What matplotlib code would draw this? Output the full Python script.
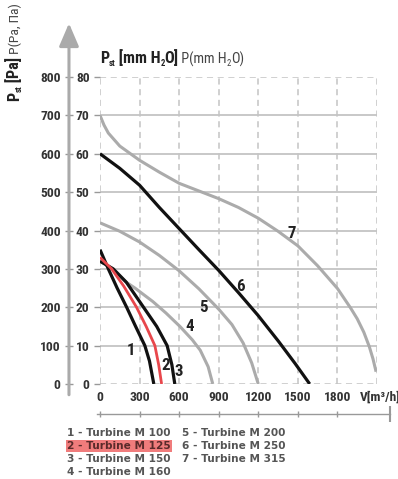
import os
import numpy as np
import matplotlib
matplotlib.use('Agg')
import matplotlib.pyplot as plt
from matplotlib import font_manager
from matplotlib.font_manager import FontProperties

# fan curves: static pressure [mm H2O] vs air flow [m3/h]
flow_1 = [0, 63, 130, 202, 270, 340, 375, 408]
pres_1 = [35, 30, 25, 20, 15, 10, 6, 0]
flow_2 = [0, 88, 180, 277, 350, 416, 445, 467]
pres_2 = [33, 30, 25.5, 20, 15, 10, 5, 0]
flow_3 = [0, 100, 200, 330, 430, 509, 545, 567]
pres_3 = [32, 30, 26.5, 20, 15, 10, 5, 0]
flow_4 = [0, 100, 200, 265, 400, 500, 606, 700, 760, 820, 855]
pres_4 = [32, 30, 26.5, 25, 21.5, 18.5, 15, 11.5, 8.8, 4.5, 0]
flow_5 = [0, 150, 300, 450, 600, 750, 900, 1000, 1085, 1150, 1200]
pres_5 = [42, 39.8, 37, 33.5, 29.5, 24.8, 19.5, 15.5, 10.7, 5.5, 0]
flow_6 = [0, 150, 300, 450, 600, 750, 900, 1050, 1200, 1356, 1480, 1590]
pres_6 = [60, 56.2, 51.8, 46, 40.5, 35, 29.6, 23.8, 17.8, 11, 5.3, 0]
flow_7 = [0, 30, 63, 150, 300, 450, 600, 750, 900, 1050, 1200, 1350, 1500,
          1650, 1800, 1900, 1950, 2000, 2042, 2070, 2093]
pres_7 = [70, 67.5, 65.4, 62, 58.3, 55.2, 52.3, 50.3, 48.3, 46, 43.2, 39.8, 36,
          30.8, 24.9, 19.8, 17, 13.5, 9.7, 6.5, 3.2]

curve_names = ['1', '2', '3', '4', '5', '6', '7']
label_pos = [(232, 8.6), (499, 4.8), (600, 3.2), (681, 15.1),
             (782, 20.0), (1065, 25.5), (1457, 39.3)]
models = ['1 - Turbine M 100', '2 - Turbine M 125', '3 - Turbine M 150',
          '4 - Turbine M 160', '5 - Turbine M 200', '6 - Turbine M 250',
          '7 - Turbine M 315']

x_ticks = [0, 300, 600, 900, 1200, 1500, 1800]
y_ticks = [0, 10, 20, 30, 40, 50, 60, 70, 80]
pa_ticks = [0, 100, 200, 300, 400, 500, 600, 700, 800]


def find_font(files):
    paths = {os.path.basename(f.fname): f.fname
             for f in font_manager.fontManager.ttflist}
    for fn in files:
        if fn in paths:
            return paths[fn]
    return None


bold_path = find_font(['LiberationSansNarrow-Bold.ttf', 'RobotoCondensed-Bold.ttf',
                       'DejaVuSansCondensed-Bold.ttf'])
reg_path = find_font(['LiberationSansNarrow-Regular.ttf', 'RobotoCondensed-Regular.ttf',
                      'DejaVuSansCondensed.ttf'])
if bold_path and 'Narrow' in bold_path:
    sc = 1.0
elif bold_path and 'Roboto' in bold_path:
    sc = 0.97
else:
    sc = 0.84


def fp(bold, size):
    path = bold_path if bold else reg_path
    if path is None:
        return FontProperties(family='DejaVu Sans', weight='bold' if bold else 'normal',
                              stretch='condensed', size=size)
    return FontProperties(fname=path, size=size)


BLACK = '#111111'
GREY = '#ababab'
RED = '#e8474c'
GRID = '#c4c4c4'
TXT = '#333333'

fig = plt.figure(figsize=(3.98, 4.79), dpi=100)
ax = fig.add_axes([100 / 398, 95 / 479, 277 / 398, 307 / 479])
ax.set_xlim(0, 2100)
ax.set_ylim(0, 80)
for s in ax.spines.values():
    s.set_visible(False)

# grid
for y in y_ticks[1:-1]:
    ax.axhline(y, color=GRID, lw=1.3, zorder=1)
for y in (y_ticks[0], y_ticks[-1]):
    ax.axhline(y, color=GRID, lw=1.1, dashes=(4, 3), zorder=1)
for x in x_ticks + [2100]:
    ax.axvline(x, color=GRID, lw=1.1, dashes=(4, 3), zorder=1)

# curves
ax.plot(flow_7, pres_7, color=GREY, lw=2.2, solid_capstyle='butt', zorder=3)
ax.plot(flow_6, pres_6, color=BLACK, lw=2.3, solid_capstyle='butt', zorder=3)
ax.plot(flow_5, pres_5, color=GREY, lw=2.2, solid_capstyle='butt', zorder=3)
ax.plot(flow_4, pres_4, color=GREY, lw=2.2, solid_capstyle='butt', zorder=3)
ax.plot(flow_3, pres_3, color=BLACK, lw=2.3, solid_capstyle='butt', zorder=4)
ax.plot(flow_1, pres_1, color=BLACK, lw=2.3, solid_capstyle='butt', zorder=4)
ax.plot(flow_2, pres_2, color=RED, lw=2.0, solid_capstyle='butt', zorder=5)

for name, (lx, ly) in zip(curve_names, label_pos):
    ax.text(lx, ly, name, fontproperties=fp(True, 12.5 * sc), color='#222222',
            ha='center', va='center', zorder=6)

# left (mm H2O) ticks
ax.set_xticks(x_ticks)
ax.set_yticks(y_ticks)
ax.tick_params(axis='y', direction='out', length=4, width=1, color='#999999',
               pad=3.5, labelcolor=TXT)
ax.tick_params(axis='x', length=0, pad=5, labelcolor=TXT)
for lab in ax.get_xticklabels() + ax.get_yticklabels():
    lab.set_fontproperties(fp(True, 10 * sc))

# Pa axis with arrow
pa = ax.secondary_yaxis(-0.112, functions=(lambda v: v * 10, lambda v: v / 10))
pa.spines['left'].set_visible(False)
pa.set_yticks(pa_ticks)
pa.tick_params(direction='inout', length=6, width=1, color='#999999', pad=3,
               labelcolor=TXT)
for lab in pa.get_yticklabels():
    lab.set_fontproperties(fp(True, 10 * sc))
ax.annotate('', xy=(-0.112, 1.175), xytext=(-0.112, -0.035),
            xycoords='axes fraction', textcoords='axes fraction',
            arrowprops=dict(arrowstyle='-|>,head_length=0.7,head_width=0.3',
                            mutation_scale=20, color='#aaaaaa', lw=2.2,
                            shrinkA=0, shrinkB=0))

# bottom scale line
tr = ax.get_xaxis_transform()
ax.plot([-25, 2195], [-0.098, -0.098], color='#999999', lw=1, transform=tr,
        clip_on=False)
ax.plot(x_ticks, [-0.098] * len(x_ticks), ls='none', marker='|', ms=5,
        mew=1, color='#999999', transform=tr, clip_on=False)
ax.plot([2195], [-0.098], ls='none', marker='|', ms=11, mew=1.5,
        color='#999999', transform=tr, clip_on=False)


def chain(x, y, pieces, rotation=0):
    # pieces: (text, bold, size, color, shift) written one after another
    last = None
    for txt, bold, size, color, shift in pieces:
        if last is None:
            if rotation == 0:
                last = fig.text(x, y, txt, fontproperties=fp(bold, size), color=color,
                                ha='left', va='bottom')
            else:
                last = fig.text(x, y, txt, fontproperties=fp(bold, size), color=color,
                                rotation=90, ha='right', va='bottom')
        elif rotation == 0:
            last = ax.annotate(txt, xy=(1, 0), xycoords=last,
                               xytext=(-0.2, -shift), textcoords='offset points',
                               fontproperties=fp(bold, size), color=color,
                               ha='left', va='bottom', annotation_clip=False)
        else:
            last = ax.annotate(txt, xy=(1, 1), xycoords=last,
                               xytext=(shift, -0.2), textcoords='offset points',
                               fontproperties=fp(bold, size), color=color,
                               rotation=90, ha='right', va='bottom',
                               annotation_clip=False)


B = 12 * sc
R = 10.5 * sc
S = 6.5 * sc
chain(100 / 398, 1 - 66 / 479,
      [('P', True, B, '#222222', 0), ('st', True, S, '#222222', 1.5),
       (' [mm H', True, B, '#222222', -1.5), ('2', True, S, '#222222', 1.5),
       ('O]', True, B, '#222222', -1.5), (' P(mm H', False, R, '#444444', 0.6),
       ('2', False, S, '#444444', 1.0), ('O)', False, R, '#444444', -1.0)])
chain(22 / 398, 1 - 101 / 479,
      [('P', True, B, '#222222', 0), ('st', True, S, '#222222', 1.5),
       (' [Pa]', True, B, '#222222', -1.5), (' P(Pa, Па)', False, 10 * sc, '#444444', 0.3)],
      rotation=90)

fig.text(360 / 398, 1 - 397 / 479, 'V[m³/h]', fontproperties=fp(True, 10 * sc),
         color=TXT, ha='left', va='center')

# legend text
leg_x = [67, 67, 67, 67, 182, 182, 182]
leg_y = [433, 446, 459, 472, 433, 446, 459]
for i, m in enumerate(models):
    kw = dict(fontsize=7.6, fontweight='bold', color='#555555', ha='left',
              va='center', family='DejaVu Sans')
    if i == 1:
        kw['color'] = '#5a2a2a'
        kw['bbox'] = dict(boxstyle='square,pad=0.1', fc='#f07c7c', ec='none')
    fig.text(leg_x[i] / 398, 1 - leg_y[i] / 479, m, **kw)

fig.savefig('out.png', dpi=100)
